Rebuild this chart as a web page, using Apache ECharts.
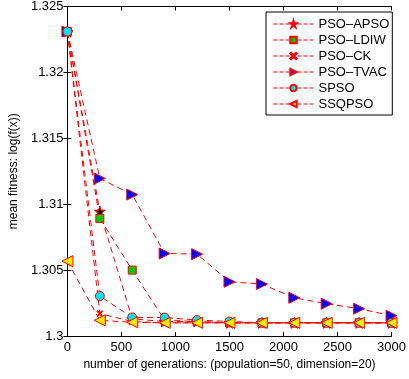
<!DOCTYPE html>
<html><head><meta charset="utf-8">
<script src="https://cdn.jsdelivr.net/npm/echarts@6/dist/echarts.min.js"></script>
<style>html,body{margin:0;padding:0;background:#fff}#c{width:409px;height:379px}</style>
</head><body><div id="c"></div>
<script>
var generations = [0, 300, 600, 900, 1200, 1500, 1800, 2100, 2400, 2700, 3000];
var psoApso  = [1.3231, 1.30945, 1.3013, 1.3011, 1.3011, 1.3010, 1.3010, 1.3010, 1.3010, 1.3010, 1.3010];
var psoLdiw  = [1.3231, 1.30892, 1.3050, 1.3012, 1.3011, 1.3010, 1.3010, 1.3010, 1.3010, 1.3010, 1.3010];
var psoCk    = [1.3231, 1.3017, 1.3011, 1.3010, 1.3010, 1.3010, 1.3010, 1.3010, 1.3010, 1.3010, 1.3010];
var psoTvac  = [1.3231, 1.31195, 1.31073, 1.30626, 1.30621, 1.30411, 1.30394, 1.3029, 1.30245, 1.30207, 1.30154];
var spso     = [1.3231, 1.30303, 1.30141, 1.3014, 1.30121, 1.3011, 1.3010, 1.3010, 1.3010, 1.3010, 1.3010];
var ssqpso   = [1.30568, 1.30119, 1.30104, 1.3010, 1.3010, 1.3010, 1.3010, 1.3010, 1.3010, 1.3010, 1.3010];
var seriesNames = ['PSO–APSO', 'PSO–LDIW', 'PSO–CK', 'PSO–TVAC', 'SPSO', 'SSQPSO'];

var STAR = 'path://M50,0 L61,35 L98,35 L68,57 L79,91 L50,70 L21,91 L32,57 L2,35 L39,35 Z';
var CROSS = 'path://M0,12 L12,0 L50,38 L88,0 L100,12 L62,50 L100,88 L88,100 L50,62 L12,100 L0,88 L38,50 Z';

function pairs(arr){ return generations.map(function(g,i){ return [g, arr[i]]; }); }
function mk(name, arr, symbol, size, fill, rot){
  return {
    name: name, type: 'line', data: pairs(arr),
    symbol: symbol, symbolSize: size, symbolRotate: rot || 0, showSymbol: true,
    lineStyle: {color: '#ff0000', width: 1, type: [6, 4]},
    itemStyle: {color: fill, borderColor: '#ff0000', borderWidth: 1},
    emphasis: {disabled: true}, animation: false, z: 2
  };
}
var chart = echarts.init(document.getElementById('c'));
var axisTxt = {color: '#000', fontSize: 12, fontFamily: 'Liberation Sans, Arial, sans-serif'};
var tickTxt = {color: '#000', fontSize: 13, fontFamily: 'Liberation Sans, Arial, sans-serif'};
chart.setOption({
  animation: false,
  grid: {left: 66, top: 6, right: 12, bottom: 43},
  legend: {
    left: 266, top: 12, orient: 'vertical', itemWidth: 40, itemHeight: 8, itemGap: 2,
    padding: [5, 3, 4, 7], backgroundColor: '#fff', borderColor: '#000', borderWidth: 1,
    lineStyle: {type: 'dashed', dashOffset: 0, width: 1, color: '#ff0000'},
    textStyle: {color: '#000', fontSize: 13, lineHeight: 14, fontFamily: 'Liberation Sans, Arial, sans-serif'},
    data: seriesNames
  },
  xAxis: [{
    type: 'value', min: 0, max: 3000, interval: 500, position: 'bottom',
    name: 'number of generations: (population=50, dimension=20)', nameLocation: 'middle', nameGap: 21,
    nameTextStyle: axisTxt,
    axisLine: {lineStyle: {color: '#000', width: 1}}, axisTick: {inside: true, length: 4, lineStyle: {color: '#000'}},
    axisLabel: Object.assign({margin: 5, formatter: function(v){ return String(v); }}, tickTxt), splitLine: {show: false}
  }, {
    type: 'value', min: 0, max: 3000, interval: 500, position: 'top',
    axisLine: {lineStyle: {color: '#000', width: 1}}, axisTick: {inside: true, length: 4, lineStyle: {color: '#000'}},
    axisLabel: {show: false}, splitLine: {show: false}
  }],
  yAxis: [{
    type: 'value', min: 1.3, max: 1.325, interval: 0.005, position: 'left',
    name: 'mean fitness: log(f(x))', nameLocation: 'middle', nameGap: 42, nameTextStyle: axisTxt,
    axisLine: {show: true, lineStyle: {color: '#000', width: 1}}, axisTick: {show: true, inside: true, length: 4, lineStyle: {color: '#000'}},
    axisLabel: Object.assign({margin: 4, formatter: function(v){ return String(parseFloat(v.toFixed(3))); }}, tickTxt),
    splitLine: {show: false}
  }, {
    type: 'value', min: 1.3, max: 1.325, interval: 0.005, position: 'right',
    axisLine: {show: true, lineStyle: {color: '#000', width: 1}}, axisTick: {show: true, inside: true, length: 4, lineStyle: {color: '#000'}},
    axisLabel: {show: false}, splitLine: {show: false}
  }],
  series: [
    mk(seriesNames[0], psoApso, STAR, 11, '#200000'),
    mk(seriesNames[1], psoLdiw, 'rect', 8, '#00cc00'),
    mk(seriesNames[2], psoCk, CROSS, 6, '#ff0000'),
    mk(seriesNames[3], psoTvac, 'triangle', 11, '#0000ff', -90),
    mk(seriesNames[4], spso, 'circle', 9, '#00e5ee'),
    mk(seriesNames[5], ssqpso, 'triangle', 11, '#ffee00', 90)
  ]
});
</script></body></html>
